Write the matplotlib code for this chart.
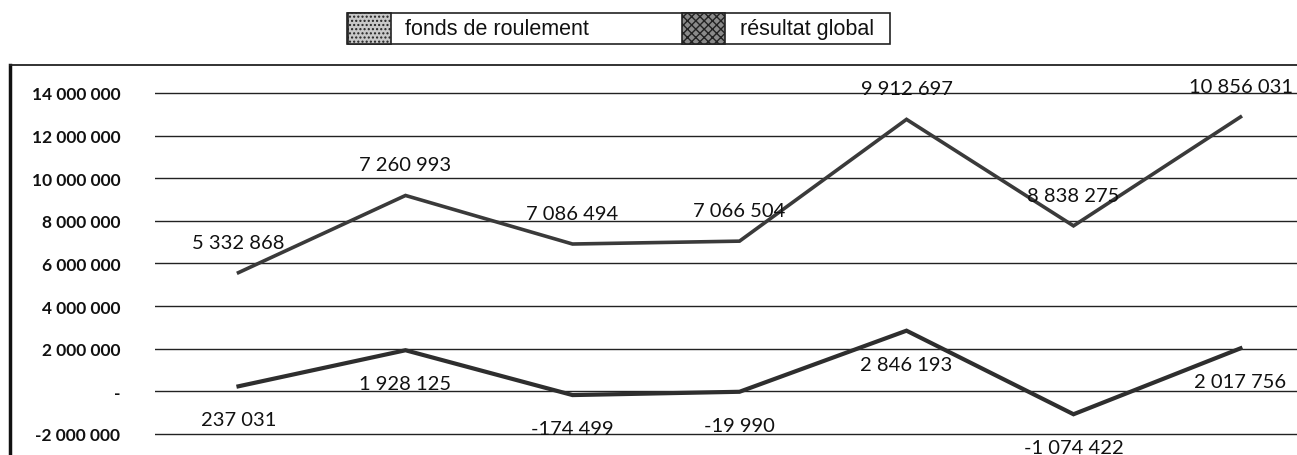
import matplotlib
matplotlib.use("Agg")
import matplotlib.pyplot as plt
from matplotlib import font_manager
from matplotlib.patches import Rectangle
from matplotlib.lines import Line2D
import numpy as np

# values (stacked lines: top line = fonds + résultat)
years = [1, 2, 3, 4, 5, 6, 7]
fonds_de_roulement = [5332868, 7260993, 7086494, 7066504, 9912697, 8838275, 10856031]
resultat_global = [237031, 1928125, -174499, -19990, 2846193, -1074422, 2017756]
yticks = [-2000000, 0, 2000000, 4000000, 6000000, 8000000, 10000000, 12000000, 14000000]
legend_labels = ["fonds de roulement", "résultat global"]

W, H = 1297, 456


def fmt(v):
    if v == 0:
        return "-"
    return f"{v:,}".replace(",", " ")


# legend font: narrow arial-like if available
names = {f.name for f in font_manager.fontManager.ttflist}
if "Liberation Sans Narrow" in names:
    leg_font, leg_size = "Liberation Sans Narrow", 18.5
else:
    leg_font, leg_size = "Liberation Sans", 15.5

fig = plt.figure(figsize=(W / 100, H / 100), dpi=100)

# axes: plot area starts at x=155, top at y=66, runs off the right/bottom edge
ax = fig.add_axes([155 / W, 0, 1169 / W, (H - 66) / H])
ax.set_xlim(0, 7)
ax.set_ylim(-2986000, 15310000)

x = np.arange(len(years)) + 0.5
total = np.array(fonds_de_roulement) + np.array(resultat_global)

ax.set_yticks(yticks)
ax.set_yticklabels([fmt(v) for v in yticks], fontfamily="Lato", fontweight="bold",
                   fontsize=12.5, color="#111111")
ax.tick_params(axis="y", length=0, pad=25)
ax.set_xticks([])
ax.yaxis.grid(True, color="#222222", linewidth=1.0)
ax.set_axisbelow(True)
for s in ax.spines.values():
    s.set_visible(False)

ax.plot(x, total, color="#3a3a3a", linewidth=2.6, solid_joinstyle="miter", zorder=3)
ax.plot(x, resultat_global, color="#2e2e2e", linewidth=3.0, solid_joinstyle="miter", zorder=3)

for xi, ti, fv in zip(x, total, fonds_de_roulement):
    ax.annotate(fmt(fv), (xi, ti), xytext=(0, 22), textcoords="offset points",
                ha="center", va="center", fontfamily="Lato", fontsize=14.5,
                color="#111111", zorder=4)
for xi, rv in zip(x, resultat_global):
    ax.annotate(fmt(rv), (xi, rv), xytext=(0, -24), textcoords="offset points",
                ha="center", va="center", fontfamily="Lato", fontsize=14.5,
                color="#111111", zorder=4)

# chart area border (left and top edges visible)
fig.add_artist(Line2D([10 / W, 10 / W], [0, 1 - 66 / H], transform=fig.transFigure,
                      color="#111111", linewidth=2.5))
fig.add_artist(Line2D([10 / W, 1], [1 - 66 / H, 1 - 66 / H], transform=fig.transFigure,
                      color="#222222", linewidth=1.3))

# legend box drawn by hand
ly0, ly1 = 1 - 45 / H, 1 - 14 / H
fig.add_artist(Rectangle((347 / W, ly0), (890 - 347) / W, ly1 - ly0,
                         transform=fig.transFigure, facecolor="white",
                         edgecolor="#222222", linewidth=1.2))
fig.add_artist(Rectangle((348 / W, ly0), 43 / W, ly1 - ly0, transform=fig.transFigure,
                         facecolor="#c8c8c8", edgecolor="#222222", hatch="....",
                         linewidth=1.2))
fig.add_artist(Rectangle((682 / W, ly0), 43 / W, ly1 - ly0, transform=fig.transFigure,
                         facecolor="#8a8a8a", edgecolor="#222222", hatch="xxxx",
                         linewidth=1.2))
fig.text(405 / W, (ly0 + ly1) / 2, legend_labels[0], ha="left", va="center",
         fontfamily=leg_font, fontsize=leg_size, color="#111111")
fig.text(740 / W, (ly0 + ly1) / 2, legend_labels[1], ha="left", va="center",
         fontfamily=leg_font, fontsize=leg_size, color="#111111")

fig.savefig("out.png", dpi=100)
